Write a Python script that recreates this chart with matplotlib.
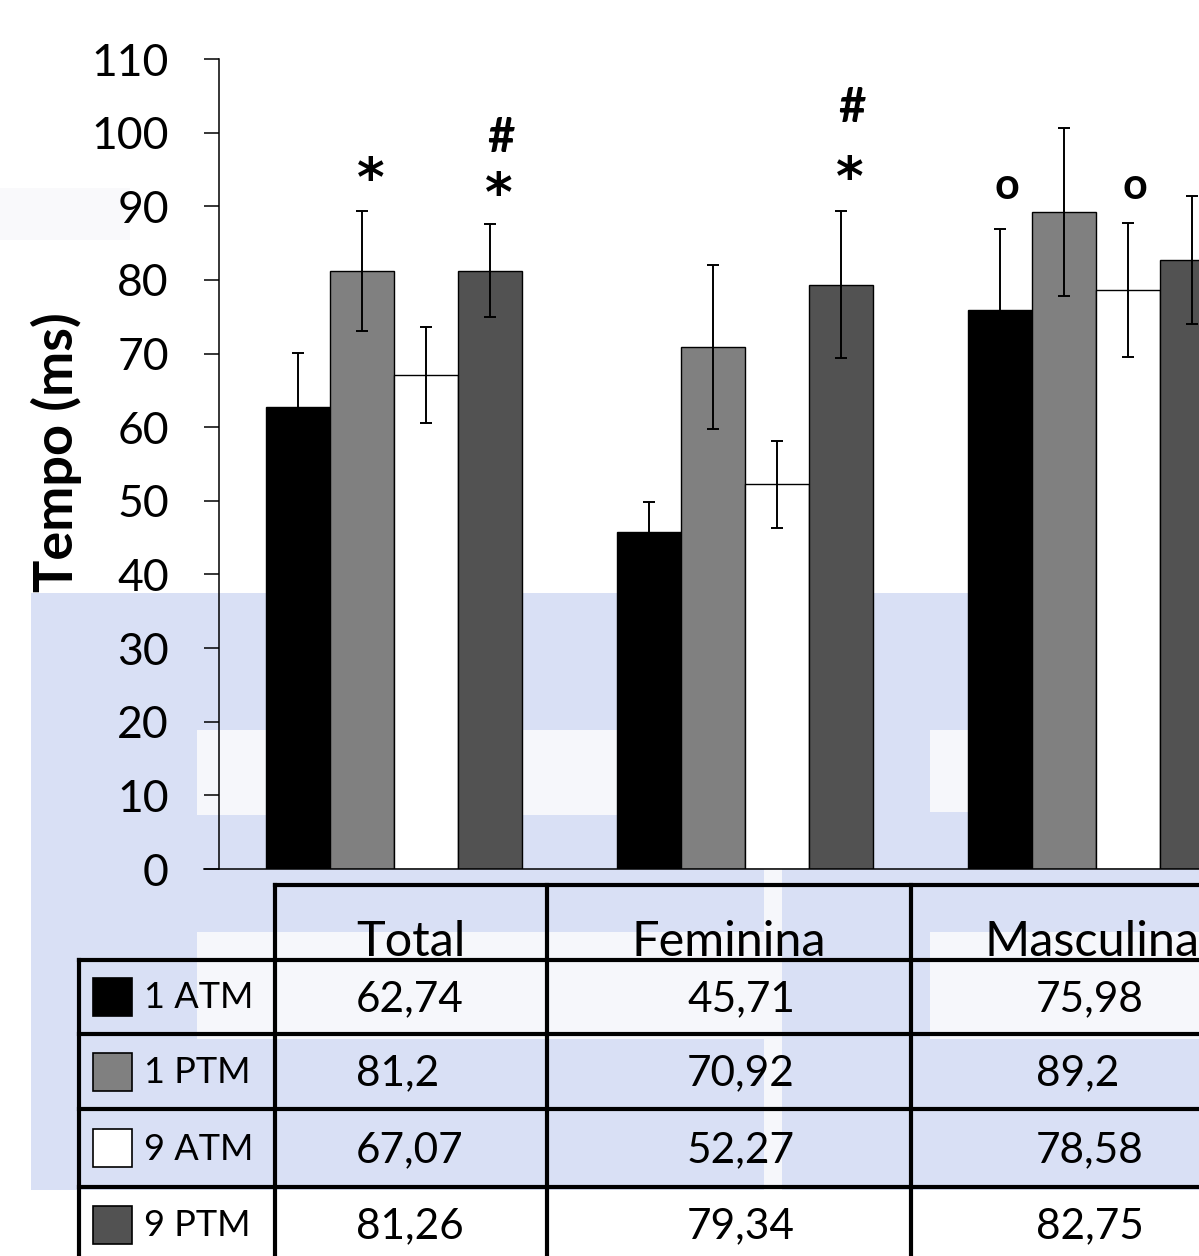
import numpy as np
import matplotlib.pyplot as plt
from matplotlib.patches import Rectangle
from matplotlib.lines import Line2D

plt.rcParams['font.family'] = ['Lato', 'DejaVu Sans']

# data
groups = ['Total', 'Feminina', 'Masculina']
series = ['1 ATM', '1 PTM', '9 ATM', '9 PTM']
atm1 = [62.74, 45.71, 75.98]
ptm1 = [81.2, 70.92, 89.2]
atm9 = [67.07, 52.27, 78.58]
ptm9 = [81.26, 79.34, 82.75]
atm1_err = [7.4, 4.1, 11.0]
ptm1_err = [8.15, 11.1, 11.4]
atm9_err = [6.5, 5.9, 9.1]
ptm9_err = [6.3, 10.0, 8.7]

# significance marks: group index, series index, symbol, height
mark_group = [0, 0, 0, 1, 1, 2, 2]
mark_series = [1, 3, 3, 3, 3, 0, 2]
mark_text = ['*', '*', '#', '*', '#', 'o', 'o']
mark_y = [94.9, 92.9, 99.3, 95.1, 103.4, 92.7, 92.7]

colors = ['#000000', '#808080', '#ffffff', '#525252']

W, H = 1199, 1256


def fx(x):
    return x / W


def fy(y):
    return 1 - y / H


fig = plt.figure(figsize=(W / 100, H / 100), dpi=100)
fig.patch.set_facecolor('white')

# faint watermark behind the chart
lav = '#d9e0f5'
pale = '#f6f7fb'
wm = [((31, 593, 1199, 1190), lav),
      ((197, 730, 668, 815), pale),
      ((930, 730, 1199, 812), pale),
      ((197, 932, 770, 1039), pale),
      ((930, 932, 1199, 1039), pale),
      ((764, 862, 782, 1190), pale),
      ((0, 188, 130, 240), '#f9f9fb')]
for (x0, y0, x1, y1), c in wm:
    fig.add_artist(Rectangle((fx(x0), fy(y1)), fx(x1) - fx(x0), fy(y0) - fy(y1),
                             transform=fig.transFigure, facecolor=c,
                             edgecolor='none', zorder=0))

ax = fig.add_axes([fx(218.5), fy(869), 1053 / W, 810 / H])
ax.patch.set_alpha(0)

x = np.arange(len(groups))
w = 64 / 351
vals = [atm1, ptm1, atm9, ptm9]
errs = [atm1_err, ptm1_err, atm9_err, ptm9_err]
for i, (v, e) in enumerate(zip(vals, errs)):
    pos = x + (i - 1.5) * w
    ax.bar(pos, v, width=w, color=colors[i], edgecolor='black', linewidth=1.0,
           label=series[i], zorder=2)
    ax.errorbar(pos, v, yerr=e, fmt='none', ecolor='black', elinewidth=1.4,
                capsize=4.5, capthick=1.4, zorder=3)

for g, s, t, yy in zip(mark_group, mark_series, mark_text, mark_y):
    xc = x[g] + (s - 1.5) * w
    if t == '*':
        ax.text(xc + 0.025, yy - 1.5, t, ha='center', va='center',
                fontsize=38, fontweight='bold', family='DejaVu Sans', zorder=4)
    elif t == '#':
        ax.text(xc + 0.03, yy, t, ha='center', va='center',
                fontsize=34, fontweight='bold', zorder=4)
    else:
        ax.text(xc + 0.02, yy, t, ha='center', va='center',
                fontsize=31, fontweight='bold', zorder=4)

ax.set_xlim(-0.5, len(groups) - 0.5)
ax.set_ylim(0, 110)
ax.set_yticks(np.arange(0, 111, 10))
ax.set_xticks([])
ax.tick_params(axis='y', direction='out', length=10.8, width=1.1, pad=25,
               labelsize=32)
for side in ['top', 'right']:
    ax.spines[side].set_visible(False)
ax.spines['left'].set_linewidth(1.1)
ax.spines['bottom'].set_linewidth(1.1)
ax.spines['bottom'].set_bounds(-0.5 - 15 / 351, len(groups) - 0.5)
ax.set_ylabel('Tempo (ms)', fontsize=39, fontweight='bold')
ax.yaxis.set_label_coords(-0.13, 0.515)

# data table below the chart
lw = 3.0
col_x = [275, 547, 911]
row_y = [960, 1034, 1109, 1187]


def hline(y, x0, x1):
    fig.add_artist(Line2D([fx(x0), fx(x1)], [fy(y), fy(y)], transform=fig.transFigure,
                          color='black', linewidth=lw, solid_capstyle='projecting'))


def vline(x0, y0, y1):
    fig.add_artist(Line2D([fx(x0), fx(x0)], [fy(y0), fy(y1)], transform=fig.transFigure,
                          color='black', linewidth=lw, solid_capstyle='projecting'))


hline(885, 275, 1220)
for yy in row_y:
    hline(yy, 79, 1220)
for xx in col_x:
    vline(xx, 885, 1270)
vline(79, 960, 1270)

head_cx = [411, 729, 1092]
for g, cx in zip(groups, head_cx):
    fig.text(fx(cx), fy(956), g, ha='center', va='baseline', fontsize=35)

edges = [885] + row_y + [1262]
val_left = [356, 687, 1036]
for r, v in enumerate(vals):
    cy = (edges[r + 1] + edges[r + 2]) / 2
    for g in range(len(groups)):
        fig.text(fx(val_left[g]), fy(cy + 2), str(v[g]).replace('.', ','),
                 ha='left', va='center', fontsize=30.5)
    fig.add_artist(Rectangle((fx(93), fy(cy + 19)), fx(132) - fx(93), fy(cy - 19) - fy(cy + 19),
                             transform=fig.transFigure, facecolor=colors[r],
                             edgecolor='black', linewidth=1.2))
    fig.text(fx(144), fy(cy + 1), series[r], ha='left', va='center', fontsize=26)

fig.savefig('out.png', dpi=100)
